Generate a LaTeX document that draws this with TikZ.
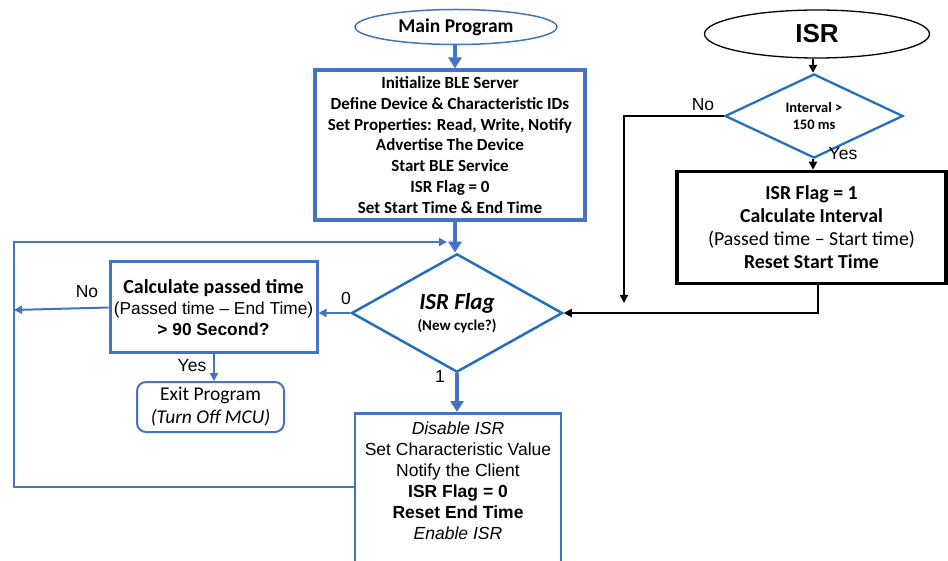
\documentclass[tikz,border=0pt]{standalone}
\usepackage{fontspec}
\setmainfont{Carlito}
\newfontfamily\arial{Liberation Sans}
\usetikzlibrary{shapes.geometric,arrows.meta}
\definecolor{bl}{RGB}{68,114,196}
\definecolor{bldia}{RGB}{36,112,188}
\tikzset{
  boxbl/.style={draw=bl, rectangle, align=center, inner sep=0pt},
  bigarr/.style={draw=bl, line width=4pt, -{Triangle[length=11pt,width=13pt]}},
  thinarr/.style={draw=bl, line width=2pt, -{Triangle[length=8pt,width=8pt]}},
  blkarr/.style={draw=black, line width=1.8pt, -{Triangle[length=8pt,width=8pt]}},
  lbl/.style={font=\arial\fontsize{17.5}{20}\selectfont, inner sep=0pt},
}
\begin{document}
\begin{tikzpicture}[x=1pt,y=-1pt]
\useasboundingbox (0,0) rectangle (948,561);
\fill[white] (0,0) rectangle (948,561);

% main program
\node[draw=bl, ellipse, line width=1.5pt, minimum width=202pt, minimum height=35pt, inner sep=0pt,
      font=\fontsize{19.5}{22}\selectfont\bfseries] (mainp) at (456,27) {Main Program};
\node[boxbl, line width=3.2pt, minimum width=270pt, minimum height=150pt,
      font=\fontsize{17}{20.8}\selectfont\bfseries] (init) at (450,145)
  {Initialize BLE Server\\Define Device \& Characteristic IDs\\Set Properties: Read, Write, Notify\\Advertise The Device\\Start BLE Service\\ISR Flag = 0\\Set Start Time \& End Time};

% ISR flag diamond
\node[diamond, draw=bldia, line width=2.5pt, minimum width=211pt, minimum height=90pt, inner sep=0pt, align=center,
      font=\fontsize{15}{21}\selectfont] (flag) at (457,313)
  {{\fontsize{23}{21}\selectfont\bfseries\itshape ISR Flag}\\{\bfseries (New cycle?)}};

% calc passed time
\node[boxbl, line width=3pt, minimum width=207pt, minimum height=91pt,
      font=\arial\fontsize{17.3}{21}\selectfont] (calc) at (213.5,307.5)
  {{\setmainfont{Carlito}\fontsize{20}{21}\selectfont\bfseries Calculate passed time}\\
   (Passed time – End Time)\\
   {\bfseries > 90 Second?}};

% exit
\node[boxbl, line width=2pt, rounded corners=9pt, minimum width=147pt, minimum height=50pt,
      font=\fontsize{19.5}{23}\selectfont] (exitp) at (210.5,407)
  {Exit Program\\\itshape (Turn Off MCU)};

% disable box
\node[draw=bl, line width=2.5pt, minimum width=206pt, minimum height=160pt, inner sep=0pt, anchor=north] (dis) at (458,412) {};
\node[align=center, inner sep=0pt, font=\arial\fontsize{17.5}{21}\selectfont] (distxt) at (458,480.5)
  {\itshape Disable ISR\\Set Characteristic Value\\Notify the Client\\\bfseries ISR Flag = 0\\\bfseries Reset End Time\\\itshape Enable ISR};

% ISR side
\node[draw=black, ellipse, line width=1.3pt, minimum width=225pt, minimum height=48pt, inner sep=0pt,
      font=\arial\fontsize{26}{28}\selectfont\bfseries] (isr) at (817,34) {ISR};
\node[diamond, draw=bldia, line width=2.3pt, minimum width=178pt, minimum height=56pt, inner sep=0pt, align=center,
      font=\fontsize{14.5}{17}\selectfont\bfseries] (intv) at (814,116) {Interval >\\150 ms};
\node[draw=black, line width=3.5pt, rectangle, align=center, inner sep=0pt, minimum width=269pt, minimum height=112pt,
      font=\fontsize{19.8}{23}\selectfont] (isrbox) at (811.5,227.5)
  {\bfseries ISR Flag = 1\\
   \bfseries Calculate Interval\\
   (Passed time – Start time)\\
   \bfseries Reset Start Time};

% coordinates
\coordinate (fbtop) at (14,242);
\coordinate (fbbot) at (14,487);
\coordinate (fbend) at (447,242);
\coordinate (noleft) at (14,310);
\coordinate (nocorner) at (624,116);
\coordinate (noend) at (624,303);
\coordinate (isrdown) at (818,313);

% main connectors
\draw[bigarr] (mainp.south -| 455,0) -- (init.north -| 455,0);
\draw[bigarr] (init.south -| 455,0) -- (flag.north -| 455,0);
\draw[bigarr] (flag.south) -- (dis.north -| flag.south);
\draw[thinarr] (flag.west) -- (calc.east |- flag.west);
\draw[thinarr] (calc.west) -- (noleft);
\draw[thinarr] (dis.west |- fbbot) -- (fbbot) -- (fbtop) -- (fbend);
\draw[draw=bl, line width=2.5pt, -{Triangle[length=8pt,width=8pt]}] (calc.south -| 214,0) -- (exitp.north -| 214,0);

% ISR connectors
\draw[blkarr] (isr.south -| 813,0) -- (intv.north -| 813,0);
\draw[blkarr] (intv.south -| 813,0) -- (isrbox.north -| 813,0);
\draw[blkarr] (intv.west) -- (nocorner) -- (noend);
\draw[blkarr] (isrbox.south -| isrdown) -- (isrdown) -- (flag.east);

% labels
\node[lbl] (lno1) at (87,292) {No};
\node[lbl] (lzero) at (346,298) {0};
\node[lbl] (lone) at (440,376) {1};
\node[lbl] (lyes1) at (192,366) {Yes};
\node[lbl] (lno2) at (703,105) {No};
\node[lbl] (lyes2) at (843,154) {Yes};
\end{tikzpicture}
\end{document}
